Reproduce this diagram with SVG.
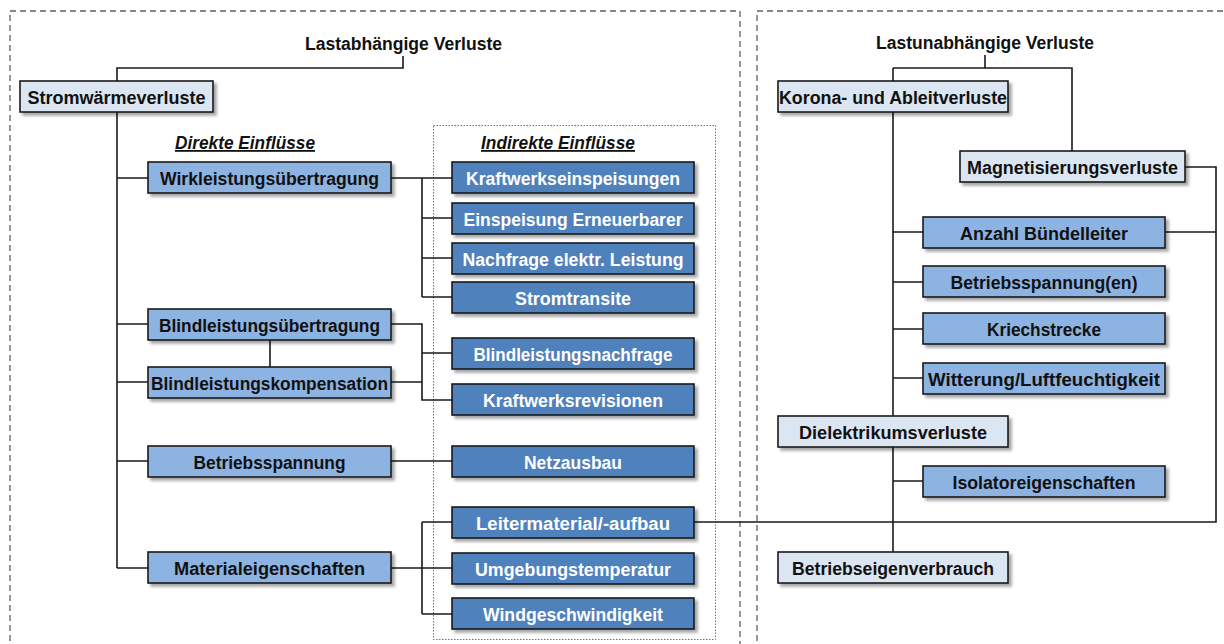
<svg xmlns="http://www.w3.org/2000/svg" width="1224" height="644" viewBox="0 0 1224 644">
<style>
.frame{fill:none;stroke:#606060;stroke-width:1.3;stroke-dasharray:6 4}
.dot{fill:none;stroke:#707070;stroke-width:1;stroke-dasharray:1.5 1.5}
.box{stroke:#1a1a1a;stroke-width:1.6;filter:url(#sh)}
.light{fill:#dce6f2}
.mid{fill:#8db3e2}
.dark{fill:#4f81bd}
text{font-family:"Liberation Sans",Arial,sans-serif;font-weight:bold;font-size:18px;text-anchor:middle}
.bt{fill:#111}
.wt{fill:#fff}
.hd{fill:#111;font-size:18px}
.sub{fill:#111;font-style:italic;text-decoration:underline}
.conn path{fill:none;stroke:#1a1a1a;stroke-width:1.6}
</style>
<defs>
<filter id="sh" x="-10%" y="-30%" width="125%" height="180%">
<feDropShadow dx="3" dy="3" stdDeviation="1.8" flood-color="#000" flood-opacity="0.35"/>
</filter>
</defs>
<rect width="1224" height="644" fill="#fff"/>
<rect class="frame" x="10" y="11" width="730" height="660"/>
<rect class="frame" x="757" y="11" width="500" height="660"/>
<rect class="dot" x="433.5" y="125.5" width="282" height="514"/>

<g id="connectors" class="conn">
<path d="M403,56 V68 H117 V81"/>
<path d="M117,112 V568"/>
<path d="M117,178 H148 M117,324 H148 M117,382 H148 M117,461 H148 M117,568 H148"/>
<path d="M391,178 H452 M422,178 V297 M422,218 H452 M422,258 H452 M422,297 H452"/>
<path d="M270,340 V367"/>
<path d="M391,324 H422 V400 H452 M391,382 H422 M422,353 H452"/>
<path d="M391,461 H452"/>
<path d="M391,568 H452 M422,522 V614 M422,522 H452 M422,614 H452"/>
<path d="M694,522 H1216 V167 H1185 M1165,232 H1216"/>
<path d="M985,55 V68 M893,68 H1072 V151 M893,68 V81"/>
<path d="M893,112 V416 M893,447 V552"/>
<path d="M893,232 H923 M893,282 H923 M893,329 H923 M893,378 H923 M893,481 H923"/>
</g>

<text class="hd" x="403.5" y="50" textLength="197" lengthAdjust="spacingAndGlyphs">Lastabhängige Verluste</text>
<text class="hd" x="985" y="49" textLength="218" lengthAdjust="spacingAndGlyphs">Lastunabhängige Verluste</text>
<text class="sub" x="245" y="149" textLength="140" lengthAdjust="spacingAndGlyphs">Direkte Einflüsse</text>
<text class="sub" x="558" y="149" textLength="154" lengthAdjust="spacingAndGlyphs">Indirekte Einflüsse</text>

<g id="stromwaermeverluste"><rect class="box light" x="20" y="81" width="193" height="31"/><text class="bt" x="116.5" y="104" textLength="178" lengthAdjust="spacingAndGlyphs">Stromwärmeverluste</text></g>

<g id="wirkleistung"><rect class="box mid" x="148" y="162" width="243" height="31"/><text class="bt" x="269.5" y="185" textLength="219" lengthAdjust="spacingAndGlyphs">Wirkleistungsübertragung</text></g>
<g id="blindleistungsuebertragung"><rect class="box mid" x="148" y="309" width="243" height="31"/><text class="bt" x="269.5" y="332" textLength="221" lengthAdjust="spacingAndGlyphs">Blindleistungsübertragung</text></g>
<g id="blindleistungskompensation"><rect class="box mid" x="148" y="367" width="243" height="31"/><text class="bt" x="269.5" y="390" textLength="237" lengthAdjust="spacingAndGlyphs">Blindleistungskompensation</text></g>
<g id="betriebsspannung"><rect class="box mid" x="148" y="446" width="243" height="31"/><text class="bt" x="269.5" y="469" textLength="152" lengthAdjust="spacingAndGlyphs">Betriebsspannung</text></g>
<g id="materialeigenschaften"><rect class="box mid" x="148" y="552" width="243" height="31"/><text class="bt" x="269.5" y="575" textLength="191" lengthAdjust="spacingAndGlyphs">Materialeigenschaften</text></g>

<g id="kraftwerkseinspeisungen"><rect class="box dark" x="452" y="162" width="242" height="31"/><text class="wt" x="573" y="185" textLength="214" lengthAdjust="spacingAndGlyphs">Kraftwerkseinspeisungen</text></g>
<g id="einspeisung"><rect class="box dark" x="452" y="203" width="242" height="31"/><text class="wt" x="573" y="226" textLength="219" lengthAdjust="spacingAndGlyphs">Einspeisung Erneuerbarer</text></g>
<g id="nachfrage"><rect class="box dark" x="452" y="243" width="242" height="31"/><text class="wt" x="573" y="266" textLength="221" lengthAdjust="spacingAndGlyphs">Nachfrage elektr. Leistung</text></g>
<g id="stromtransite"><rect class="box dark" x="452" y="282" width="242" height="31"/><text class="wt" x="573" y="305" textLength="116" lengthAdjust="spacingAndGlyphs">Stromtransite</text></g>
<g id="blindleistungsnachfrage"><rect class="box dark" x="452" y="338" width="242" height="31"/><text class="wt" x="573" y="361" textLength="199" lengthAdjust="spacingAndGlyphs">Blindleistungsnachfrage</text></g>
<g id="kraftwerksrevisionen"><rect class="box dark" x="452" y="384" width="242" height="31"/><text class="wt" x="573" y="407" textLength="180" lengthAdjust="spacingAndGlyphs">Kraftwerksrevisionen</text></g>
<g id="netzausbau"><rect class="box dark" x="452" y="446" width="242" height="31"/><text class="wt" x="573" y="469" textLength="98" lengthAdjust="spacingAndGlyphs">Netzausbau</text></g>
<g id="leitermaterial"><rect class="box dark" x="452" y="507" width="242" height="31"/><text class="wt" x="573" y="530" textLength="194" lengthAdjust="spacingAndGlyphs">Leitermaterial/-aufbau</text></g>
<g id="umgebungstemperatur"><rect class="box dark" x="452" y="553" width="242" height="31"/><text class="wt" x="573" y="576" textLength="196" lengthAdjust="spacingAndGlyphs">Umgebungstemperatur</text></g>
<g id="windgeschwindigkeit"><rect class="box dark" x="452" y="598" width="242" height="31"/><text class="wt" x="573" y="621" textLength="180" lengthAdjust="spacingAndGlyphs">Windgeschwindigkeit</text></g>

<g id="korona"><rect class="box light" x="778" y="81" width="230" height="31"/><text class="bt" x="893" y="104" textLength="228" lengthAdjust="spacingAndGlyphs">Korona- und Ableitverluste</text></g>
<g id="magnetisierung"><rect class="box light" x="960" y="151" width="225" height="31"/><text class="bt" x="1072.5" y="174" textLength="211" lengthAdjust="spacingAndGlyphs">Magnetisierungsverluste</text></g>
<g id="anzahl"><rect class="box mid" x="923" y="217" width="242" height="31"/><text class="bt" x="1044" y="240" textLength="168" lengthAdjust="spacingAndGlyphs">Anzahl Bündelleiter</text></g>
<g id="betriebsspannungen"><rect class="box mid" x="923" y="266" width="242" height="31"/><text class="bt" x="1044" y="289" textLength="187" lengthAdjust="spacingAndGlyphs">Betriebsspannung(en)</text></g>
<g id="kriechstrecke"><rect class="box mid" x="923" y="313" width="242" height="31"/><text class="bt" x="1044" y="336" textLength="114" lengthAdjust="spacingAndGlyphs">Kriechstrecke</text></g>
<g id="witterung"><rect class="box mid" x="923" y="363" width="242" height="31"/><text class="bt" x="1044" y="386" textLength="232" lengthAdjust="spacingAndGlyphs">Witterung/Luftfeuchtigkeit</text></g>
<g id="dielektrikum"><rect class="box light" x="778" y="416" width="230" height="31"/><text class="bt" x="893" y="439" textLength="188" lengthAdjust="spacingAndGlyphs">Dielektrikumsverluste</text></g>
<g id="isolator"><rect class="box mid" x="923" y="466" width="242" height="31"/><text class="bt" x="1044" y="489" textLength="183" lengthAdjust="spacingAndGlyphs">Isolatoreigenschaften</text></g>
<g id="betriebseigenverbrauch"><rect class="box light" x="778" y="552" width="230" height="31"/><text class="bt" x="893" y="575" textLength="202" lengthAdjust="spacingAndGlyphs">Betriebseigenverbrauch</text></g>
</svg>
